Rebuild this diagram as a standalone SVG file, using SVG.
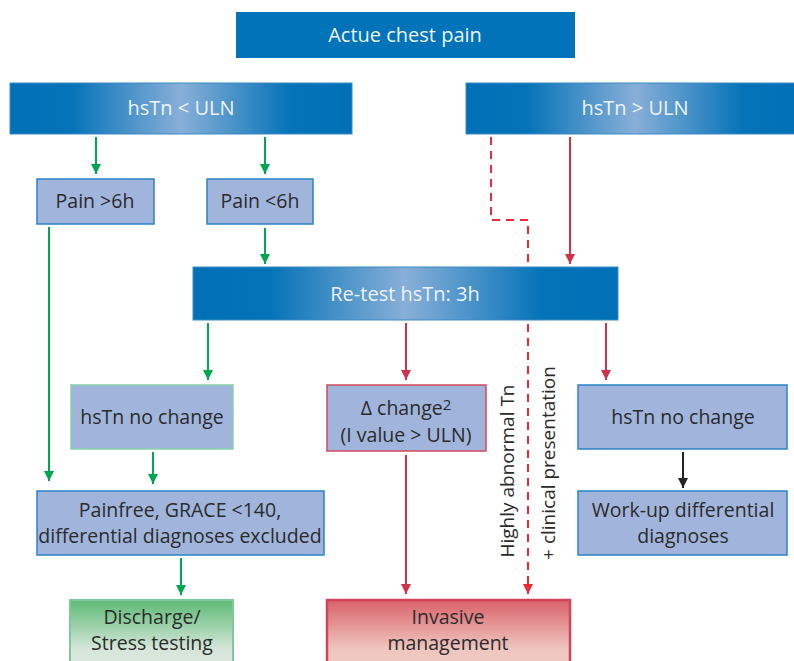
<svg xmlns="http://www.w3.org/2000/svg" width="794" height="661" viewBox="0 0 794 661">
<defs>
<linearGradient id="bar" x1="0" y1="0" x2="1" y2="0">
<stop offset="0" stop-color="#0071b7"/>
<stop offset="0.18" stop-color="#0573b8"/>
<stop offset="0.5" stop-color="#88afd8"/>
<stop offset="0.82" stop-color="#0573b8"/>
<stop offset="1" stop-color="#0071b7"/>
</linearGradient>
<linearGradient id="green" x1="0" y1="0" x2="0" y2="1">
<stop offset="0" stop-color="#5cba74"/>
<stop offset="0.7" stop-color="#d6e6da"/>
<stop offset="1" stop-color="#dde6df"/>
</linearGradient>
<linearGradient id="red" x1="0" y1="0" x2="0" y2="1">
<stop offset="0" stop-color="#d9616a"/>
<stop offset="0.7" stop-color="#efc6bf"/>
<stop offset="1" stop-color="#f0cbc4"/>
</linearGradient>
<marker id="ag" viewBox="0 0 10 10" refX="10" refY="5" markerWidth="10" markerHeight="10" markerUnits="userSpaceOnUse" orient="auto"><path d="M0,0 L10,5 L0,10 z" fill="#00a651"/></marker>
<marker id="ar" viewBox="0 0 10 10" refX="10" refY="5" markerWidth="10" markerHeight="10" markerUnits="userSpaceOnUse" orient="auto"><path d="M0,0 L10,5 L0,10 z" fill="#cf3349"/></marker>
<marker id="ad" viewBox="0 0 10 10" refX="10" refY="5" markerWidth="10" markerHeight="10" markerUnits="userSpaceOnUse" orient="auto"><path d="M0,0 L10,5 L0,10 z" fill="#ee2a36"/></marker>
<marker id="ak" viewBox="0 0 10 10" refX="10" refY="5" markerWidth="10" markerHeight="10" markerUnits="userSpaceOnUse" orient="auto"><path d="M0,0 L10,5 L0,10 z" fill="#222222"/></marker>
</defs>
<style>
text{font-family:"Open Sans","Liberation Sans",sans-serif;font-size:19.5px;fill:#2b2b2b;text-anchor:middle}
.w{fill:#eef3fa;font-size:20px}
.box{fill:#a1b5dc;stroke:#2a83c5;stroke-width:1.5}
.bar{fill:url(#bar);stroke:#3d8ac6;stroke-width:1}
.g{stroke:#00a651;stroke-width:2;fill:none;marker-end:url(#ag)}
.r{stroke:#cf3349;stroke-width:2;fill:none;marker-end:url(#ar)}
.d{stroke:#ee2a36;stroke-width:2;fill:none;stroke-dasharray:8 6;marker-end:url(#ad)}
.k{stroke:#222;stroke-width:2;fill:none;marker-end:url(#ak)}
.rot{font-size:19px}
</style>
<rect width="794" height="661" fill="#ffffff"/>
<g id="connectors">
<path class="g" d="M96 137V174"/>
<path class="g" d="M265 137V174"/>
<path class="g" d="M265 228V264"/>
<path class="g" d="M49 227V481"/>
<path class="g" d="M208 323V380"/>
<path class="g" d="M153 452V484"/>
<path class="g" d="M181 558V595"/>
<path class="r" d="M570 137V264"/>
<path class="r" d="M406 323V380"/>
<path class="r" d="M606 323V380"/>
<path class="r" d="M406 455V594"/>
<path class="d" d="M491 137V220H528V594"/>
<path class="k" d="M683 452V488"/>
</g>
<g id="n-chest"><rect x="236" y="12" width="339" height="46" fill="#0073b9"/><text class="w" x="405" y="42">Actue chest pain</text></g>
<g id="n-low"><rect class="bar" x="10" y="83" width="342" height="51"/><text class="w" x="181" y="115">hsTn &lt; ULN</text></g>
<g id="n-high"><rect class="bar" x="466" y="83" width="338" height="51"/><text class="w" x="635" y="115">hsTn &gt; ULN</text></g>
<g id="n-p6a"><rect class="box" x="37" y="179" width="117" height="45"/><text x="95" y="208">Pain &gt;6h</text></g>
<g id="n-p6b"><rect class="box" x="207" y="179" width="106" height="45"/><text x="260" y="208">Pain &lt;6h</text></g>
<g id="n-retest"><rect class="bar" x="193" y="267" width="425" height="53"/><text class="w" x="405" y="301">Re-test hsTn: 3h</text></g>
<g id="n-nc1"><rect class="box" x="71" y="385" width="162" height="64" style="stroke:#86d0a4"/><text x="152" y="424">hsTn no change</text></g>
<g id="n-delta"><rect class="box" x="327" y="385" width="159" height="66" style="stroke:#d24a5c"/><text x="406" y="415">Δ change<tspan font-size="15" dy="-5">2</tspan></text><text x="406" y="442">(I value &gt; ULN)</text></g>
<g id="n-nc2"><rect class="box" x="578" y="385" width="209" height="64"/><text x="683" y="424">hsTn no change</text></g>
<g id="n-painfree"><rect class="box" x="37" y="491" width="287" height="64"/><text x="180" y="517">Painfree, GRACE &lt;140,</text><text x="180" y="543">differential diagnoses excluded</text></g>
<g id="n-workup"><rect class="box" x="578" y="491" width="209" height="64"/><text x="683" y="517">Work-up differential</text><text x="683" y="543">diagnoses</text></g>
<g id="n-label"><text class="rot" transform="translate(514,471) rotate(-90)">Highly abnormal Tn</text><text class="rot" transform="translate(555,463) rotate(-90)">+ clinical presentation</text></g>
<g id="n-discharge"><rect x="70" y="600" width="163" height="70" fill="url(#green)" stroke="#7fc79d" stroke-width="2"/><text x="152" y="624">Discharge/</text><text x="152" y="650">Stress testing</text></g>
<g id="n-invasive"><rect x="327" y="600" width="243" height="70" fill="url(#red)" stroke="#d3435c" stroke-width="2.5"/><text x="448" y="624">Invasive</text><text x="448" y="650">management</text></g>
</svg>
